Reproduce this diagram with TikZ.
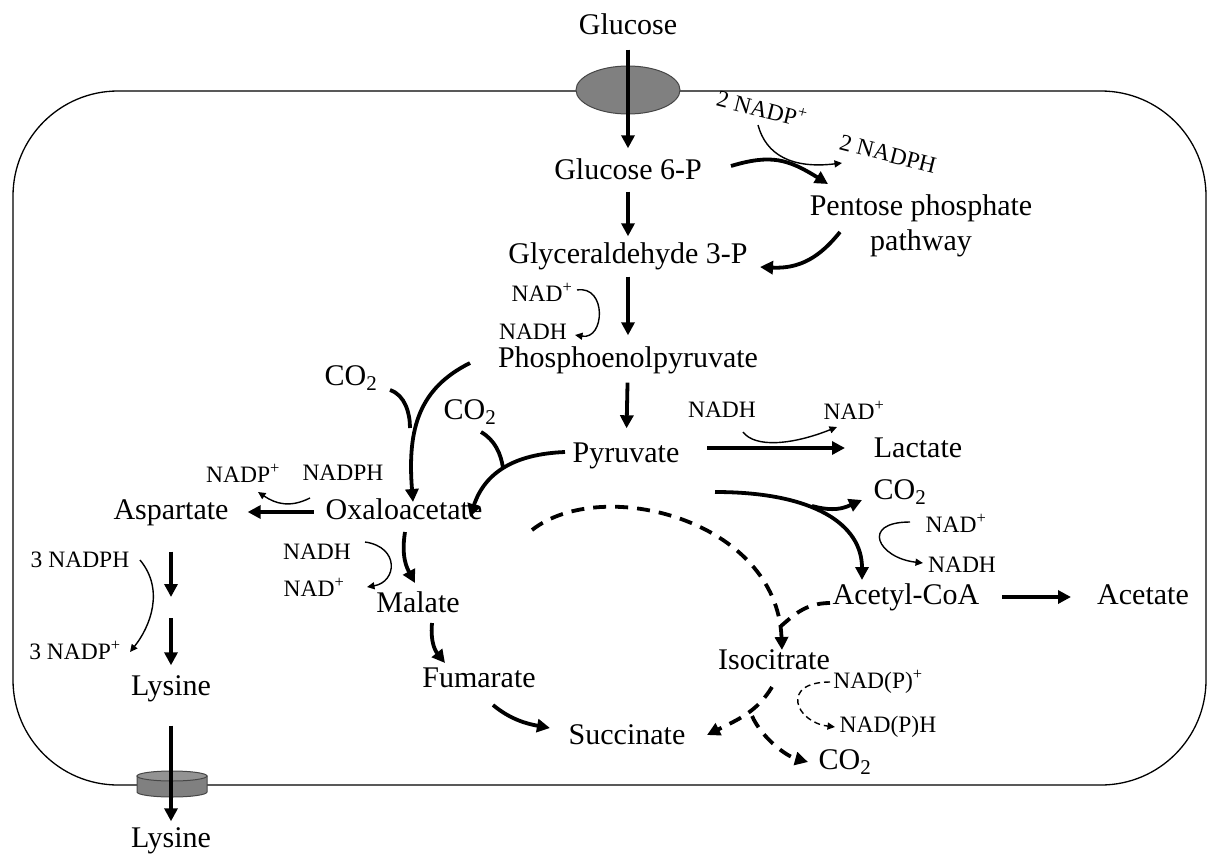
\documentclass[tikz,border=0pt]{standalone}
\usepackage{fontspec}
\setmainfont{Liberation Serif}
\usetikzlibrary{arrows.meta}

\definecolor{porter}{RGB}{128,128,128}
\definecolor{porterdark}{RGB}{70,70,70}

\tikzset{
  met/.style={font=\fontsize{30}{35}\selectfont, inner sep=0pt, text height=20pt, text depth=5pt},
  cof/.style={font=\fontsize{23.5}{26}\selectfont, inner sep=0pt},
  feed/.style={line width=3.8pt},
  flux/.style={feed, -{Triangle[length=13pt,width=13pt]}},
  side/.style={line width=1.4pt, -{Triangle[length=7.5pt,width=7pt]}},
  tca/.style={flux, dash pattern=on 13pt off 9pt},
  sidedash/.style={side, dash pattern=on 6pt off 4pt},
}

\begin{document}
\begin{tikzpicture}[x=1pt,y=-1pt]
\useasboundingbox (0,0) rectangle (1208,854);

	% cell membrane and transporters
	\draw[line width=1.3pt, rounded corners=105pt] (13,91) rectangle (1206,785);
	\filldraw[fill=porter, draw=porterdark, line width=1pt] (628,90) ellipse [x radius=52, y radius=24];
	\filldraw[fill=porter, draw=porterdark, line width=1pt] (137,776) -- (137,792) arc[start angle=180, end angle=0, x radius=35, y radius=5] -- (207,776) -- cycle;
	\filldraw[fill=porter!85!white, draw=porterdark, line width=1pt] (172,776) ellipse [x radius=35, y radius=5];

	% metabolites
	\node[met] (glc) at (628,27) {Glucose};
	\node[met] (g6p) at (628,172) {Glucose 6-P};
	\node[met] (gap) at (628,256) {Glyceraldehyde 3-P};
	\node[font=\fontsize{30}{35}\selectfont, inner sep=0pt, align=center] (ppp) at (921,226) {Pentose phosphate\\pathway};
	\node[met] (pep) at (628,360) {Phosphoenolpyruvate};
	\node[met] (pyr) at (626,455) {Pyruvate};
	\node[met] (lac) at (918,450) {Lactate};
	\node[met] (oaa) at (404,512) {Oxaloacetate};
	\node[met] (asp) at (171,512) {Aspartate};
	\node[met] (mal) at (418,605) {Malate};
	\node[met] (fum) at (479,680) {Fumarate};
	\node[met] (suc) at (627,737) {Succinate};
	\node[met] (ict) at (774,662) {Isocitrate};
	\node[met] (acoa) at (906,597) {Acetyl-CoA};
	\node[met] (ace) at (1143,597) {Acetate};
	\node[met] (lys) at (171,688) {Lysine};
	\node[met] (lysx) at (171,840) {Lysine};
	\node[met] (co2a) at (351,378) {CO\textsubscript{2}};
	\node[met] (co2b) at (470,412) {CO\textsubscript{2}};
	\node[met] (co2c) at (900,492) {CO\textsubscript{2}};
	\node[met] (co2d) at (845,762) {CO\textsubscript{2}};

	% cofactors
	\node[cof, rotate=-14] (nadpA) at (762,108) {2 NADP\textsuperscript{+}};
	\node[cof, rotate=-14] (nadphA) at (888,154) {2 NADPH};
	\node[cof] (nadA) at (542,292) {NAD\textsuperscript{+}};
	\node[cof] (nadhA) at (533,332) {NADH};
	\node[cof] (nadpB) at (243,473) {NADP\textsuperscript{+}};
	\node[cof] (nadphB) at (343,473) {NADPH};
	\node[cof] (nadhB) at (317,552) {NADH};
	\node[cof] (nadB) at (314,587) {NAD\textsuperscript{+}};
	\node[cof] (nadphC) at (80,560) {3 NADPH};
	\node[cof] (nadpC) at (75,650) {3 NADP\textsuperscript{+}};
	\node[cof] (nadhD) at (722,410) {NADH};
	\node[cof] (nadD) at (854,410) {NAD\textsuperscript{+}};
	\node[cof] (nadE) at (956,523) {NAD\textsuperscript{+}};
	\node[cof] (nadhE) at (962,565) {NADH};
	\node[cof] (nadpF) at (878,682) {NAD(P)\textsuperscript{+}};
	\node[cof] (nadphF) at (888,727) {NAD(P)H};

	\coordinate (jA) at (410,428);
	\coordinate (jB) at (503,468);
	\coordinate (jC) at (812,506);
	\coordinate (jD) at (781,626);
	\coordinate (jE) at (752,716);
	\coordinate (lysA) at (171,597);
	\coordinate (lysB) at (171,618);

	% glycolysis
	\draw[flux, shorten <=10pt, shorten >=11pt] (glc) -- (g6p);
	\draw[flux, shorten <=7pt, shorten >=7pt] (g6p) -- (gap);
	\draw[flux, shorten <=8pt, shorten >=12pt] (gap) -- (pep);
	\draw[flux, shorten <=10pt, shorten >=14pt] (pep) -- (pyr);
	\draw[side] ([shift={(35,-2)}]nadA.center) .. controls +(30,-5) and +(30,5) .. ([shift={(42,3)}]nadhA.center);

	% pentose phosphate pathway
	\draw[flux] ([shift={(103,-6)}]g6p.center) .. controls +(40,-12) and +(-40,-25) .. ([shift={(-93,-42)}]ppp.center);
	\draw[side] ([shift={(-4,17)}]nadpA.center) .. controls +(8,30) and +(-50,6) .. ([shift={(-46,9)}]nadphA.center);
	\draw[flux] ([shift={(-81,6)}]ppp.center) .. controls +(-20,25) and +(40,2) .. ([shift={(132,11)}]gap.center);

	% anaplerosis
	\draw[flux] ([shift={(-158,3)}]pep.center) .. controls +(-50,25) and +(-6,-75) .. ([shift={(9,-10)}]oaa.center);
	\draw[feed] ([shift={(39,12)}]co2a.center) .. controls +(15,5) and +(0,-15) .. (jA);
	\draw[flux] ([shift={(-61,-3)}]pyr.center) .. controls +(-50,2) and +(15,-45) .. ([shift={(66,5)}]oaa.center);
	\draw[feed] ([shift={(11,20)}]co2b.center) .. controls +(14,8) and +(-2,-14) .. (jB);

	% lysine branch
	\draw[flux, shorten <=12pt, shorten >=19pt] (oaa) -- (asp);
	\draw[side] ([shift={(-33,25)}]nadphB.center) .. controls +(-20,10) and +(18,12) .. ([shift={(15,19)}]nadpB.center);
	\draw[flux, shorten <=27pt] (asp) -- (lysA);
	\draw[flux, shorten >=10pt] (lysB) -- (lys);
	\draw[side] ([shift={(60,0)}]nadphC.center) .. controls +(25,30) and +(20,-25) .. ([shift={(55,2)}]nadpC.center);
	\draw[flux, shorten <=25pt, shorten >=6pt] (lys) -- (lysx);

	% reductive branch
	\draw[flux] ([shift={(1,20)}]oaa.center) .. controls +(-4,25) and +(-8,-15) .. ([shift={(-3,-22)}]mal.center);
	\draw[side] ([shift={(48,-10)}]nadhB.center) .. controls +(35,5) and +(30,-5) .. ([shift={(53,0)}]nadB.center);
	\draw[flux] ([shift={(14,18)}]mal.center) .. controls +(-2,22) and +(-8,-10) .. ([shift={(-34,-17)}]fum.center);
	\draw[flux] ([shift={(14,25)}]fum.center) .. controls +(18,15) and +(-22,-4) .. ([shift={(-77,-9)}]suc.center);

	% lactate, acetyl-CoA, acetate
	\draw[flux] ([shift={(81,-7)}]pyr.center) -- ([shift={(-73,-2)}]lac.center);
	\draw[side] ([shift={(21,22)}]nadhD.center) .. controls +(12,16) and +(-45,18) .. ([shift={(-17,17)}]nadD.center);
	\draw[flux] ([shift={(89,37)}]pyr.center) .. controls +(100,0) and +(0,-55) .. ([shift={(-44,-17)}]acoa.center);
	\draw[flux] (jC) .. controls +(22,6) and +(-18,8) .. ([shift={(-38,8)}]co2c.center);
	\draw[side] ([shift={(-46,-1)}]nadE.center) .. controls +(-50,0) and +(-45,-5) .. ([shift={(-39,-2)}]nadhE.center);
	\draw[flux] ([shift={(96,0)}]acoa.center) -- ([shift={(-72,0)}]ace.center);

	% TCA cycle (dashed)
	\draw[tca] ([shift={(128,18)}]oaa.center) .. controls +(70,-55) and +(-5,-130) .. ([shift={(8,-12)}]ict.center);
	\draw[feed, dash pattern=on 13pt off 9pt] ([shift={(-76,6)}]acoa.center) .. controls +(-25,0) and +(12,-10) .. (jD);
	\draw[tca] ([shift={(-2,25)}]ict.center) .. controls +(-15,25) and +(30,-15) .. ([shift={(80,-2)}]suc.center);
	\draw[tca] (jE) .. controls +(10,22) and +(-22,-6) .. ([shift={(-37,0)}]co2d.center);
	\draw[sidedash] ([shift={(-48,0)}]nadpF.center) .. controls +(-50,0) and +(-40,-5) .. ([shift={(-53,0)}]nadphF.center);

\end{tikzpicture}
\end{document}
